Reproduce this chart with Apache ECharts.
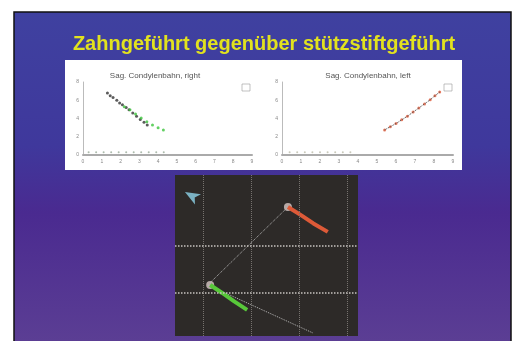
<!DOCTYPE html>
<html><head><meta charset="utf-8">
<script src="https://cdn.jsdelivr.net/npm/echarts@6/dist/echarts.min.js"></script>
<style>html,body{margin:0;padding:0;background:#fff}#c{width:516px;height:341px}</style>
</head><body><div id="c"></div>
<script>
// Slide title and small chart titles
const slideTitle = 'Zahngeführt gegenüber stützstiftgeführt';
const leftTitle = 'Sag. Condylenbahn, right';
const rightTitle = 'Sag. Condylenbahn, left';

// Left small chart (values in chart units)
const leftBlack = [[1.3,6.8],[1.45,6.5],[1.6,6.3],[1.8,6.0],[1.95,5.7],[2.1,5.5],[2.3,5.2],[2.45,4.95],[2.65,4.6],[2.85,4.25],[3.05,3.9],[3.25,3.6],[3.42,3.3]];
const leftGreen = [[2.2,5.3],[2.5,4.95],[2.8,4.5],[3.1,4.05],[3.4,3.65],[3.7,3.3],[4.0,3.0],[4.28,2.75]];
const leftBottom = [[0.3,0.3],[0.7,0.3],[1.1,0.3],[1.5,0.3],[1.9,0.3],[2.3,0.3],[2.7,0.3],[3.1,0.3],[3.5,0.3],[3.9,0.3],[4.3,0.3]];

// Right small chart
const rightRed = [[5.4,2.75],[5.7,3.1],[6.0,3.45],[6.3,3.85],[6.6,4.25],[6.9,4.7],[7.2,5.15],[7.5,5.6],[7.8,6.05],[8.05,6.5],[8.3,6.9]];
const rightBottom = [[0.4,0.3],[0.8,0.3],[1.2,0.3],[1.6,0.3],[2.0,0.3],[2.4,0.3],[2.8,0.3],[3.2,0.3],[3.6,0.3]];

// Dark panel (trajectory view)
const darkRed = [[1.77,1.83],[2.05,1.65],[2.3,1.48],[2.6,1.30]];
const darkGreen = [[0.15,0.17],[0.4,0.0],[0.65,-0.18],[0.92,-0.36]];
const darkDotted = [[1.77,1.83],[0.10,0.17],[2.29,-0.85]];
const darkCyan = [[-0.375,2.15]];
const darkGridX = [0,1,2,3];
const darkGridY = [0,1];

const chart = echarts.init(document.getElementById('c'));
const smallAxisLabel = {fontSize:5, color:'#888', margin:4};
function smallX(i){return {gridIndex:i,type:'value',min:0,max:9,interval:1,axisLine:{lineStyle:{color:'#aaa',width:2}},axisTick:{show:false},splitLine:{show:false},axisLabel:smallAxisLabel};}
function smallY(i){return {gridIndex:i,type:'value',min:0,max:8,interval:2,axisLine:{show:true,lineStyle:{color:'#bbb'}},axisTick:{show:false},splitLine:{show:false},axisLabel:smallAxisLabel};}

chart.setOption({
  animation:false,
  backgroundColor:'#ffffff',
  title:[
    {text:slideTitle,left:259,textAlign:'center',top:29,textStyle:{fontFamily:'Liberation Sans',fontWeight:'bold',fontSize:20,color:'#e2e21e'}},
    {text:leftTitle,left:150,top:67,textAlign:'center',textStyle:{fontSize:8,fontWeight:'normal',color:'#555'}},
    {text:rightTitle,left:363,top:67,textAlign:'center',textStyle:{fontSize:8,fontWeight:'normal',color:'#555'}}
  ],
  graphic:[
    {type:'rect',z:-10,shape:{x:14,y:12,width:497,height:335},style:{fill:new echarts.graphic.LinearGradient(0,0,0,1,[{offset:0,color:'#3f41a0'},{offset:0.4,color:'#3f389c'},{offset:0.6,color:'#4a2a90'},{offset:1,color:'#5c3f94'}]),stroke:'#111',lineWidth:1.5}},
    {type:'rect',z:-9,shape:{x:65,y:60,width:397,height:110},style:{fill:'#ffffff'}},
    {type:'rect',z:-9,shape:{x:175,y:175,width:183,height:161},style:{fill:'#2d2a28'}},
    {type:'rect',z:-8,shape:{x:242,y:84,width:8,height:7},style:{fill:'none',stroke:'#999',lineWidth:0.6}},
    {type:'rect',z:-8,shape:{x:444,y:84,width:8,height:7},style:{fill:'none',stroke:'#999',lineWidth:0.6}}
  ],
  grid:[
    {left:83,top:82,width:169,height:73},
    {left:282,top:82,width:171,height:73},
    {left:175,top:175,width:183,height:161}
  ],
  xAxis:[
    smallX(0), smallX(1),
    {gridIndex:2,type:'value',min:-0.583,max:3.23,show:false}
  ],
  yAxis:[
    smallY(0), smallY(1),
    {gridIndex:2,type:'value',min:-0.915,max:2.51,show:false}
  ],
  series:[
    {type:'scatter',xAxisIndex:0,yAxisIndex:0,data:leftBlack,symbolSize:3,itemStyle:{color:'#333'}},
    {type:'scatter',xAxisIndex:0,yAxisIndex:0,data:leftGreen,symbolSize:3,itemStyle:{color:'#3cc43c'}},
    {type:'scatter',xAxisIndex:0,yAxisIndex:0,data:leftBottom,symbolSize:2,itemStyle:{color:'#9a9'}},
    {type:'scatter',xAxisIndex:1,yAxisIndex:1,data:rightRed,symbolSize:3,itemStyle:{color:'#e05a3a'}},
    {type:'line',xAxisIndex:1,yAxisIndex:1,data:rightRed,showSymbol:false,lineStyle:{color:'#444',width:1,type:'dotted'}},
    {type:'scatter',xAxisIndex:1,yAxisIndex:1,data:rightBottom,symbolSize:2,itemStyle:{color:'#bba'}},
    {type:'line',xAxisIndex:2,yAxisIndex:2,data:darkDotted,showSymbol:false,lineStyle:{color:'#b8b8b8',width:1,type:'dotted'},
      markLine:{symbol:'none',silent:true,label:{show:false},lineStyle:{color:'#77736f',width:1,type:'dotted'},
        data:darkGridX.map(v=>({xAxis:v})).concat(darkGridY.map(v=>({yAxis:v,lineStyle:{color:'#c8c4c0',width:1.5,type:'dotted'}})))}},
    {type:'line',xAxisIndex:2,yAxisIndex:2,data:darkRed,showSymbol:false,lineStyle:{color:'#dd5a38',width:4}},
    {type:'line',xAxisIndex:2,yAxisIndex:2,data:darkGreen,showSymbol:false,lineStyle:{color:'#58c83a',width:4}},
    {type:'scatter',xAxisIndex:2,yAxisIndex:2,data:[darkRed[0],darkGreen[0]],symbolSize:8,itemStyle:{color:'#d8c8c4',opacity:0.8}},
    {type:'scatter',xAxisIndex:2,yAxisIndex:2,data:darkCyan,symbol:'arrow',symbolRotate:60,symbolSize:[9,15],itemStyle:{color:'#8ed4ea'}}
  ]
});
</script></body></html>
